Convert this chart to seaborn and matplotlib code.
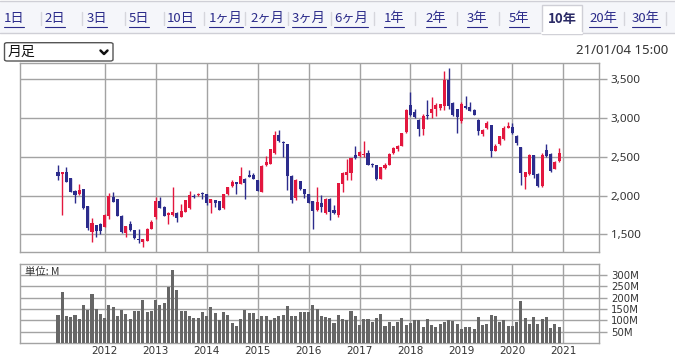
import numpy as np
import pandas as pd
import matplotlib
matplotlib.use("Agg")
import matplotlib.pyplot as plt
import seaborn as sns
from matplotlib.lines import Line2D
from matplotlib.patches import Rectangle, FancyBboxPatch

# --- monthly candles, Feb 2011 .. Dec 2020 ---
months = pd.date_range("2011-02-01", "2020-12-01", freq="MS")

open_ = [2310, 2280, 2310, 2225, 2065, 2015, 2080, 1860, 1535, 1620, 1640,
         1600, 1740, 1985, 1955, 1740, 1515, 1640, 1555, 1440, 1405, 1420, 1575,
         1725, 1935, 1855, 1755, 1750, 1780, 1725, 1790, 1835, 1995, 2005, 2035,
         2020, 1900, 1940, 1925, 1835, 2015, 2120, 2170, 2155, 2220, 2260, 2265,
         2200, 2045, 2390, 2410, 2545, 2775, 2695, 2660, 2255, 1970, 2185, 2085,
         2015, 1925, 1810, 1900, 1770, 1950, 1810, 1750, 2150, 2270, 2295, 2520,
         2510, 2520, 2550, 2400, 2395, 2215, 2355, 2400, 2545, 2600, 2645, 2815,
         3170, 3080, 2980, 2860, 3045, 3060, 3115, 3125, 3160, 3490, 3190, 3115,
         2960, 3160, 3140, 3105, 2980, 2790, 2870, 2905, 2580, 2660, 2725, 2875,
         2885, 2770, 2625, 2240, 2275, 2520, 2280, 2120, 2590, 2540, 2345, 2445]
high = [2400, 2310, 2375, 2230, 2070, 2145, 2085, 1860, 1705, 1625, 1645,
        1760, 2035, 2045, 1960, 1745, 1610, 1670, 1560, 1575, 1440, 1580, 1685,
        1980, 1985, 1860, 1790, 2110, 1785, 1895, 1945, 2060, 2015, 2030, 2045,
        2025, 1960, 1945, 1930, 2020, 2115, 2195, 2180, 2365, 2225, 2325, 2290,
        2205, 2390, 2515, 2600, 2835, 2845, 2700, 2665, 2260, 2210, 2190, 2090,
        2020, 1930, 2110, 2005, 1965, 1970, 1880, 2165, 2300, 2470, 2490, 2635,
        2580, 2710, 2590, 2420, 2400, 2370, 2420, 2545, 2620, 2650, 2810, 3110,
        3330, 3120, 2990, 3050, 3230, 3270, 3190, 3185, 3600, 3640, 3200, 3120,
        3200, 3290, 3200, 3110, 2990, 2860, 2960, 2910, 2660, 2770, 2900, 2950,
        2940, 2775, 2630, 2310, 2530, 2525, 2285, 2550, 2660, 2545, 2440, 2610]
low = [2205, 1755, 2170, 2040, 1910, 2010, 1830, 1555, 1400, 1460, 1500,
       1590, 1700, 1915, 1740, 1520, 1470, 1550, 1445, 1385, 1335, 1415, 1570,
       1700, 1840, 1740, 1630, 1740, 1665, 1720, 1785, 1830, 1970, 1990, 1960,
       1880, 1770, 1855, 1810, 1830, 2010, 2115, 2025, 2150, 1950, 2235, 2210,
       2055, 2040, 2385, 2405, 2540, 2695, 2495, 2070, 1900, 1940, 2075, 1975,
       1905, 1565, 1805, 1790, 1765, 1685, 1760, 1730, 2050, 2200, 2200, 2470,
       2500, 2500, 2390, 2370, 2200, 2210, 2340, 2395, 2540, 2570, 2640, 2810,
       3020, 3005, 2770, 2780, 2990, 3000, 3030, 3100, 3100, 3120, 3030, 2810,
       2940, 3120, 3090, 3040, 2780, 2770, 2860, 2500, 2575, 2655, 2720, 2870,
       2800, 2650, 2140, 2080, 2270, 2230, 2110, 2110, 2500, 2300, 2340, 2430]
close = [2250, 2300, 2175, 2045, 2005, 2075, 1835, 1585, 1645, 1545, 1545,
         1750, 1995, 1920, 1740, 1535, 1605, 1555, 1450, 1430, 1435, 1570, 1665,
         1925, 1840, 1740, 1780, 1790, 1705, 1800, 1940, 2005, 1985, 2015, 2015,
         1900, 1950, 1905, 1820, 2015, 2110, 2180, 2155, 2250, 2160, 2240, 2215,
         2060, 2385, 2430, 2595, 2785, 2700, 2680, 2250, 1940, 2205, 2080, 2025,
         1905, 1805, 1915, 1855, 1960, 1790, 1780, 2160, 2290, 2300, 2485, 2490,
         2560, 2535, 2400, 2390, 2215, 2365, 2395, 2540, 2615, 2640, 2805, 3105,
         3040, 3010, 2860, 3030, 3025, 3115, 3170, 3180, 3490, 3160, 3045, 3010,
         3180, 3130, 3095, 3045, 2830, 2850, 2935, 2580, 2645, 2765, 2870, 2900,
         2810, 2675, 2290, 2305, 2520, 2265, 2120, 2520, 2510, 2315, 2435, 2545]
volume_m = [124, 225, 121, 115, 124, 106, 168, 146, 216, 150, 128,
            110, 168, 160, 121, 146, 128, 106, 143, 143, 190, 138, 143,
            190, 168, 176, 247, 322, 234, 143, 143, 121, 110, 110, 135,
            121, 160, 132, 103, 135, 124, 88, 76, 106, 146, 132, 132,
            106, 121, 121, 103, 110, 118, 125, 163, 121, 121, 138, 138,
            138, 168, 150, 121, 116, 110, 88, 124, 106, 101, 143, 121,
            81, 106, 106, 93, 110, 128, 76, 93, 76, 93, 110, 81,
            88, 101, 101, 71, 106, 81, 71, 84, 93, 101, 99, 84,
            63, 71, 71, 63, 115, 81, 85, 124, 121, 93, 101, 76,
            76, 93, 185, 110, 85, 115, 85, 106, 115, 66, 84, 71]

year_labels = ["2012", "2013", "2014", "2015", "2016", "2017", "2018", "2019", "2020", "2021"]
price_ticks = [1500, 2000, 2500, 3000, 3500]
vol_ticks = [50, 100, 150, 200, 250, 300]
tabs = ["1日", "2日", "3日", "5日", "10日", "1ヶ月", "2ヶ月", "3ヶ月", "6ヶ月",
        "1年", "2年", "3年", "5年", "10年", "20年", "30年"]
active_tab = "10年"
stamp = "21/01/04 15:00"

UP = "#e3173e"
DOWN = "#2c2c8c"
GRID = "#a3a3a3"
VOL = "#666666"
LINK = "#2b2b8a"

sns.set_theme(style="white")
plt.rcParams["font.family"] = ["Noto Sans CJK JP", "DejaVu Sans"]

df = pd.DataFrame({"month": months, "open": open_, "high": high, "low": low,
                   "close": close, "vol": volume_m})
df["pos"] = np.arange(len(df))
df["up"] = df["close"] >= df["open"]
# January positions (incl. Jan 2021 just past the last bar)
year_pos = list(df.loc[df["month"].dt.month == 1, "pos"]) + [len(df)]

W, H = 675, 355
fig = plt.figure(figsize=(W / 100, H / 100), dpi=100)
fig.patch.set_facecolor("white")

def box(x0, y0, x1, y1):
    # pixel box (top-left origin) -> figure fraction rect
    return [x0 / W, 1 - y1 / H, (x1 - x0) / W, (y1 - y0) / H]

# --- tab bar ---
fig.add_artist(Rectangle((0, 1 - 33 / H), 1, 32 / H, transform=fig.transFigure,
                         facecolor="#f5f6fa", edgecolor="none"))
fig.add_artist(Line2D([0, 1], [1 - 33 / H] * 2, transform=fig.transFigure, color="#cfcfd6", lw=1))
fig.add_artist(Line2D([0, 1], [1 - 1 / H] * 2, transform=fig.transFigure, color="#cfcfd6", lw=1))
# active tab
fig.add_artist(Rectangle((541.7 / W, 1 - 33.5 / H), 40.6 / W, 28.8 / H, transform=fig.transFigure,
                         facecolor="white", edgecolor="#cfcfd6", lw=1))
fig.add_artist(Line2D([542.2 / W, 581.8 / W], [1 - 33 / H] * 2, transform=fig.transFigure,
                      color="white", lw=1.5))

tab_x = [14, 55, 97, 139, 181, 226, 267, 309, 351, 394, 436, 477, 519, 562, 603, 646]
sep_x = [41, 82, 125, 164, 204, 245, 288, 331, 374, 415, 457, 499, 624, 666]
for sx in sep_x:
    fig.add_artist(Line2D([sx / W] * 2, [1 - 12 / H, 1 - 25 / H], transform=fig.transFigure,
                          color="#d6d6dc", lw=1))
tab_texts = []
for label, tx in zip(tabs, tab_x):
    is_active = label == active_tab
    t = fig.text(tx / W, 1 - 18.5 / H, label, ha="center", va="center", fontsize=9.5,
                 color="#2b2b66" if is_active else LINK,
                 fontweight="bold" if is_active else "normal")
    if not is_active:
        tab_texts.append(t)

# --- period selector and time stamp ---
fig.add_artist(FancyBboxPatch((4.5 / W, 1 - 61 / H), 108.5 / W, 18.3 / H,
                              boxstyle="round,pad=0,rounding_size=0.004",
                              transform=fig.transFigure, facecolor="white",
                              edgecolor="#555555", lw=1))
fig.text(8 / W, 1 - 52 / H, "月足", ha="left", va="center", fontsize=10, color="#111111")
fig.add_artist(Line2D([100.5 / W, 104 / W, 107.5 / W], [1 - 50.5 / H, 1 - 54 / H, 1 - 50.5 / H],
                      transform=fig.transFigure, color="#111111", lw=1.8))
fig.text(668 / W, 1 - 50 / H, stamp, ha="right", va="center", fontsize=9.5,
         color="#333333", family=["Noto Sans", "DejaVu Sans"])

# --- price panel ---
ax = fig.add_axes(box(20, 62.7, 599, 252))
colors = np.where(df["up"], UP, DOWN)
ax.vlines(df["pos"], df["low"], df["high"], colors=colors, lw=1, zorder=3)
body = (df["close"] - df["open"]).abs().clip(lower=12)
ax.bar(df["pos"], body, bottom=df[["open", "close"]].min(axis=1), width=0.72,
       color=colors, linewidth=0, zorder=4)
ax.set_xlim(-8.95, 127.4)
ax.set_ylim(1273, 3713)
ax.set_xticks(year_pos)
ax.set_yticks(price_ticks)
ax.set_yticklabels([f"{v:,}" for v in price_ticks], family=["Noto Sans", "DejaVu Sans"])
ax.yaxis.tick_right()
ax.tick_params(axis="y", length=6, width=1, color=GRID, pad=2.5, labelsize=8.4, labelcolor="#333333")
ax.tick_params(axis="x", length=0, labelbottom=False)
ax.grid(True, color=GRID, lw=1, zorder=0)
ax.set_axisbelow(True)
for s in ax.spines.values():
    s.set_color(GRID)
    s.set_linewidth(1)
ax.set_xlabel("")
ax.set_ylabel("")

# --- volume panel ---
axv = fig.add_axes(box(20, 264, 599, 343))
sns.barplot(data=df, x="pos", y="vol", native_scale=True, color=VOL, saturation=1,
            width=0.72, errorbar=None, linewidth=0, ax=axv, zorder=3)
axv.set_xlim(-8.95, 127.4)
axv.set_ylim(0, 349)
axv.set_xticks(year_pos)
axv.set_xticklabels(year_labels, family=["DejaVu Sans"])
axv.set_yticks(vol_ticks)
axv.set_yticklabels([f"{v}M" for v in vol_ticks], family=["DejaVu Sans"])
axv.yaxis.tick_right()
axv.tick_params(axis="y", length=6, width=1, color=GRID, pad=2.5, labelsize=7.3, labelcolor="#333333")
axv.tick_params(axis="x", length=0, pad=2, labelsize=7.5, labelcolor="#333333")
axv.grid(True, color=GRID, lw=1, zorder=0)
axv.set_axisbelow(True)
for s in axv.spines.values():
    s.set_color(GRID)
    s.set_linewidth(1)
axv.set_xlabel("")
axv.set_ylabel("")
axv.text(0.008, 0.9, "単位: M", transform=axv.transAxes, ha="left", va="center",
         fontsize=7.5, color="#333333", zorder=5)

# underline the tab links
fig.canvas.draw()
r = fig.canvas.get_renderer()
for t in tab_texts:
    bb = t.get_window_extent(r)
    fig.add_artist(Line2D([bb.x0 / W, bb.x1 / W], [1 - 26.5 / H] * 2,
                          transform=fig.transFigure, color=LINK, lw=0.8))

fig.savefig("out.png", dpi=100)
